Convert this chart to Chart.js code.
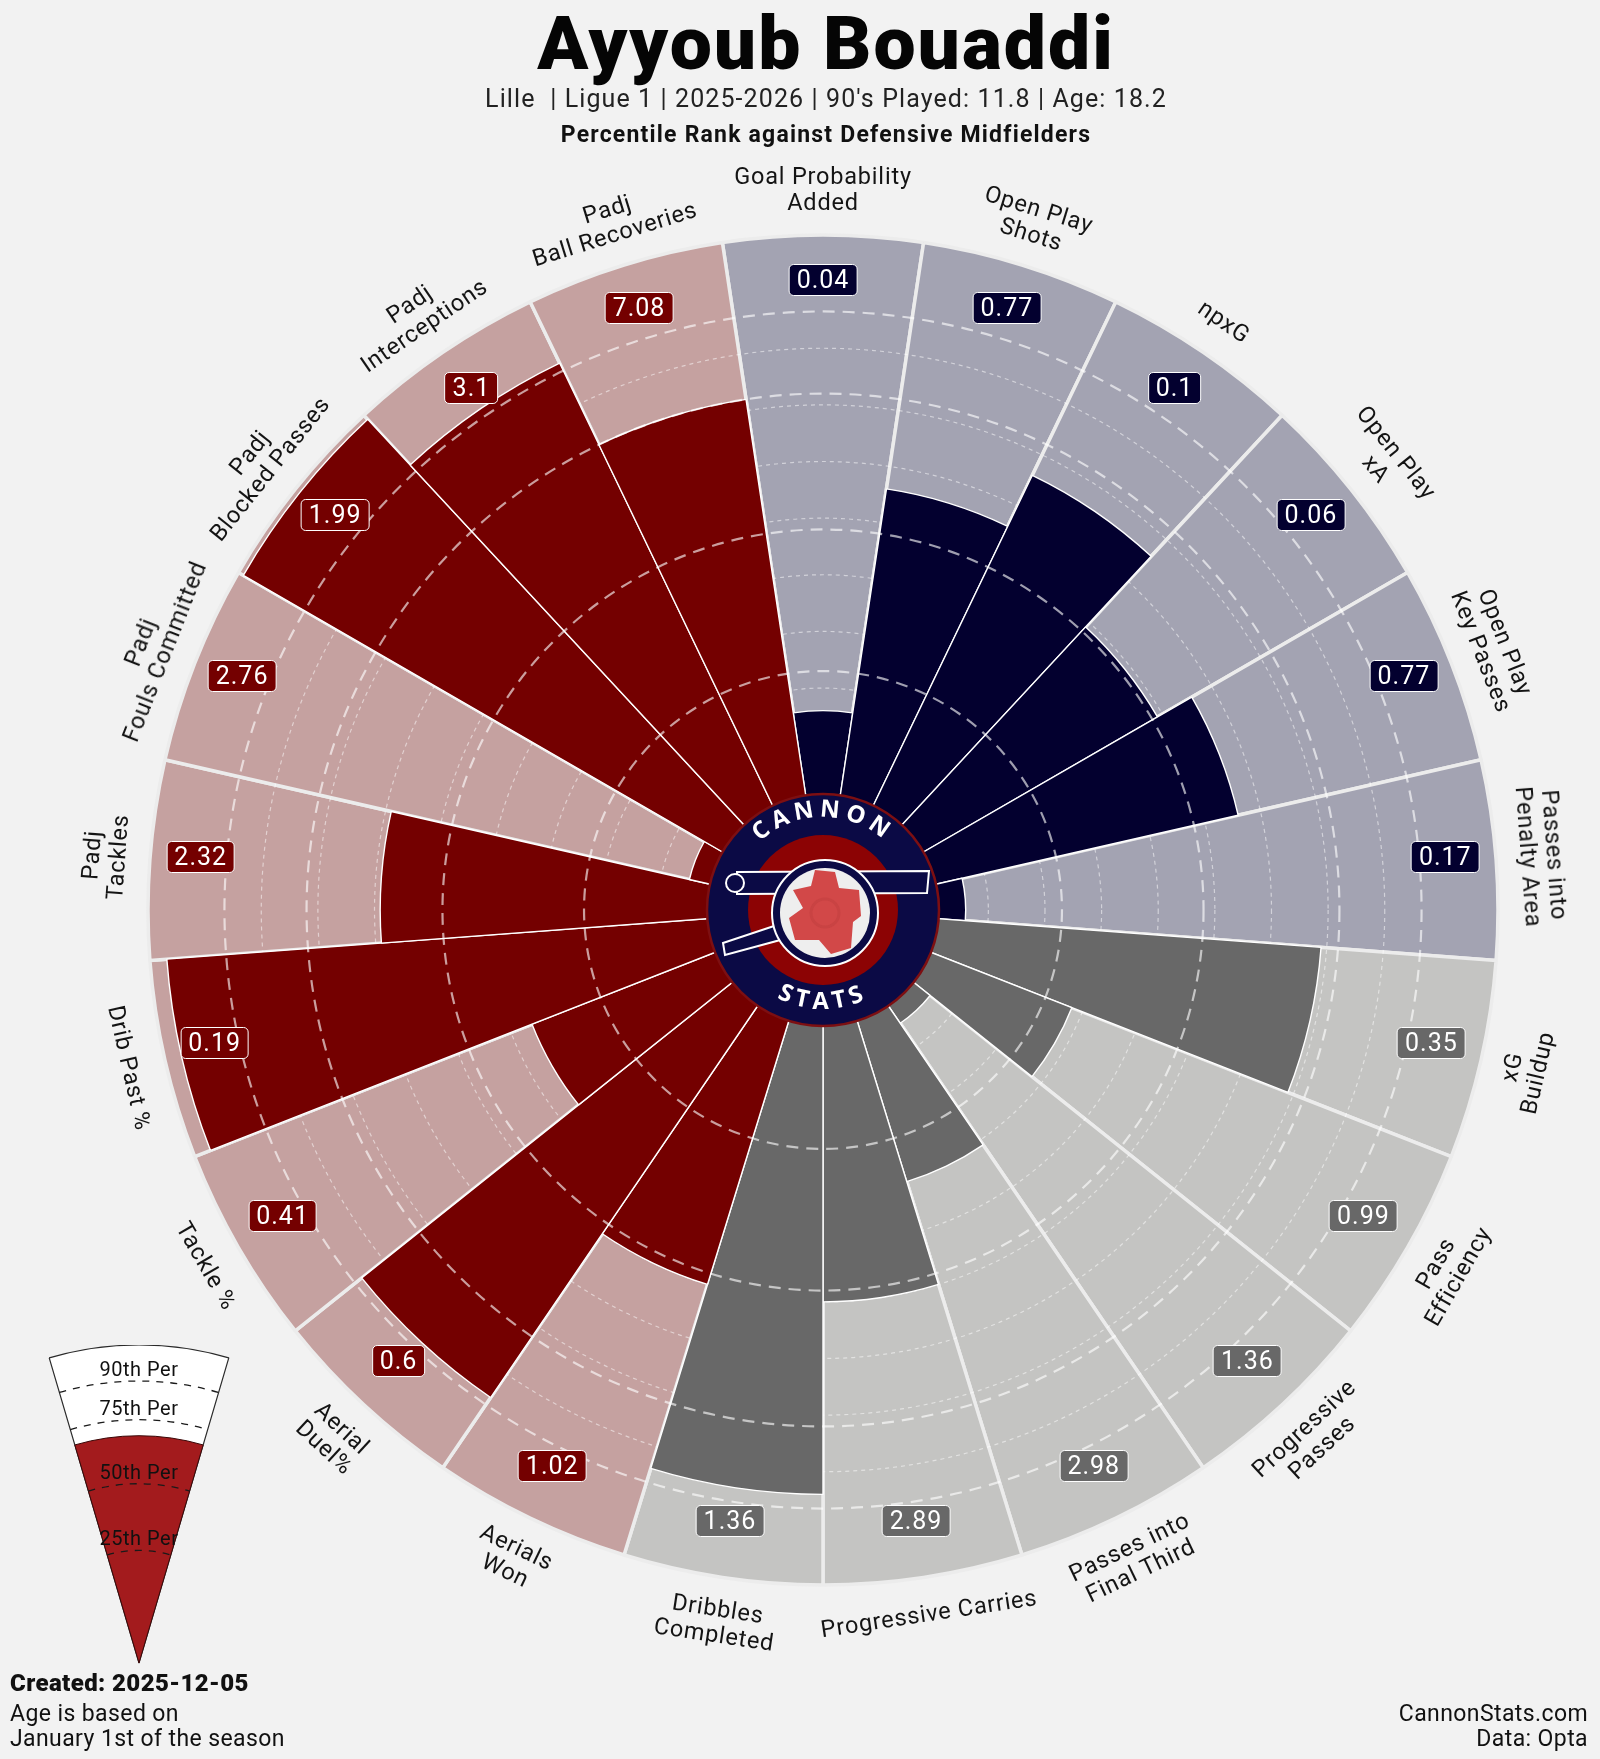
<!DOCTYPE html>
<html>
<head>
<meta charset="utf-8">
<title>Ayyoub Bouaddi - pizza</title>
<script src="https://cdn.jsdelivr.net/npm/chart.js@4.4.1/dist/chart.umd.min.js"></script>
<style>
  html, body { margin: 0; padding: 0; }
  body {
    width: 1600px; height: 1759px; position: relative; overflow: hidden;
    background: #f2f2f2; color: #111;
    font-family: Roboto, "Noto Sans", sans-serif;
  }
  canvas { position: absolute; }
  #pizza { left: 0; top: 0; }
  #key { left: -179px; top: 1345px; }
  #logo { position: absolute; left: 703px; top: 790px; }
  .center { position: absolute; left: 826px; transform: translateX(-50%); white-space: pre; text-align: center; }
  .title { top: 6px; font-size: 75px; font-weight: 900; line-height: 1; letter-spacing: 2px; color: #050505; }
  .sub { top: 86px; font-size: 25px; line-height: 26px; letter-spacing: 1.1px; color: #222; }
  .sub2 { top: 123px; font-size: 23px; line-height: 24px; letter-spacing: 1.2px; font-weight: 700; }
  .lbl { position: absolute; white-space: pre; text-align: center; font-size: 23.5px; line-height: 1.1; letter-spacing: 0.8px; color: #141414; }
  .val { position: absolute; font-size: 25px; line-height: 30px; letter-spacing: 1px; color: #fff; border: 1.5px solid #fff; border-radius: 5px; padding: 0 7px; }
  .keytxt { position: absolute; font-size: 20px; line-height: 20px; letter-spacing: 0.5px; color: #111; white-space: pre; }
  .foot { position: absolute; font-size: 23px; line-height: 25px; letter-spacing: 0.4px; color: #111; }
</style>
</head>
<body>
<canvas id="pizza" width="1600" height="1759"></canvas>
<canvas id="key" width="636" height="636"></canvas>

<svg id="logo" width="240" height="240" viewBox="-120 -120 240 240">
  <defs>
    <path id="arcTop" d="M -93 0 A 93 93 0 0 1 93 0"/>
    <path id="arcBot" d="M -99 0 A 99 99 0 0 0 99 0"/>
  </defs>
  <circle r="116" fill="#0b0a45" stroke="#7d0f12" stroke-width="2.5"/>
  <circle r="75" fill="#8c0304"/>
  <path d="M -86 -38 L 106 -39 L 104 -17 L -86 -16 Z" fill="#0b0a45" stroke="#fff" stroke-width="2"/>
  <circle cx="-88" cy="-27" r="9" fill="#0b0a45" stroke="#fff" stroke-width="2"/>
  <path d="M -100 33 L -34 11 L -28 26 L -98 45 Z" fill="#0b0a45" stroke="#fff" stroke-width="2"/>
  <circle cx="2" cy="3" r="53" fill="#0b0a45" stroke="#fff" stroke-width="2"/>
  <circle cx="2" cy="3" r="45" fill="#eeeeee"/>
  <path d="M -8 -40 L 12 -38 L 16 -22 L 36 -20 L 38 6 L 30 12 L 28 38 L 8 44 L -4 30 L -28 30 L -34 8 L -20 -2 L -30 -20 L -12 -24 Z" fill="#d24848"/>
  <circle cx="2" cy="3" r="14" fill="none" stroke="#c94343" stroke-width="3"/>
  <text font-family="'Open Sans', sans-serif" font-weight="700" font-size="24" fill="#fff" letter-spacing="5">
    <textPath href="#arcTop" startOffset="50%" text-anchor="middle">CANNON</textPath>
  </text>
  <text font-family="'Open Sans', sans-serif" font-weight="700" font-size="24" fill="#fff" letter-spacing="5">
    <textPath href="#arcBot" startOffset="50%" text-anchor="middle">STATS</textPath>
  </text>
</svg>

<div class="center title">Ayyoub Bouaddi</div>
<div class="center sub">Lille  | Ligue 1 | 2025-2026 | 90's Played: 11.8 | Age: 18.2</div>
<div class="center sub2">Percentile Rank against Defensive Midfielders</div>

<div class="foot" style="left:10px; top:1671px; font-weight:900; font-size:24px;">Created: 2025-12-05</div>
<div class="foot" style="left:10px; top:1701px;">Age is based on<br>January 1st of the season</div>
<div class="foot" style="right:12px; top:1701px; text-align:right;">CannonStats.com<br>Data: Opta</div>

<script>
// categories clockwise from the top
const categories = [
  ["Goal Probability", "Added"],
  ["Open Play", "Shots"],
  "npxG",
  ["Open Play", "xA"],
  ["Open Play", "Key Passes"],
  ["Passes into", "Penalty Area"],
  ["xG", "Buildup"],
  ["Pass", "Efficiency"],
  ["Progressive", "Passes"],
  ["Passes into", "Final Third"],
  "Progressive Carries",
  ["Dribbles", "Completed"],
  ["Aerials", "Won"],
  ["Aerial", "Duel%"],
  "Tackle %",
  "Drib Past %",
  ["Padj", "Tackles"],
  ["Padj", "Fouls Committed"],
  ["Padj", "Blocked Passes"],
  ["Padj", "Interceptions"],
  ["Padj", "Ball Recoveries"]
];

// percentile rank of each slice
const percentiles = [16, 56, 66, 49, 56, 6, 69, 28, 5, 31, 50, 84, 50, 85, 36, 97, 59, 5, 99, 88, 72];

// raw per-90 values shown in the boxes
const statValues = ["0.04", "0.77", "0.1", "0.06", "0.77", "0.17", "0.35", "0.99", "1.36", "2.98", "2.89",
                    "1.36", "1.02", "0.6", "0.41", "0.19", "2.32", "2.76", "1.99", "3.1", "7.08"];

// 0 = attacking, 1 = possession, 2 = defending
const groupOf = [0, 0, 0, 0, 0, 0, 1, 1, 1, 1, 1, 1, 2, 2, 2, 2, 2, 2, 2, 2, 2];

// dashed reference rings (25th / 50th / 75th / 90th markers) and the finer grid
const refLines = [23, 48, 72, 86.5];
const gridSteps = [10, 20, 30, 40, 50, 60, 70, 80];

// key wedge
const keyLabels = ["25th Per", "50th Per", "75th Per", "90th Per"];
const keyFill = 66;

const darkColors = ["#03002f", "#686868", "#740000"];
const lightColors = ["#a3a3b2", "#c4c4c2", "#c5a1a0"];
const scaleMin = -19.2;

// thin dashed rings go above the light slices but under the percentile bars
const thinGrid = {
  id: "thinGrid",
  beforeDatasetDraw(chart, args) {
    if (args.index !== 0) return;
    const r = chart.scales.r;
    const ctx = chart.ctx;
    ctx.save();
    ctx.strokeStyle = "rgba(255,255,255,0.5)";
    ctx.lineWidth = 1.2;
    ctx.setLineDash([4, 4]);
    gridSteps.forEach(v => {
      ctx.beginPath();
      ctx.arc(r.xCenter, r.yCenter, r.getDistanceFromCenterForValue(v), 0, Math.PI * 2);
      ctx.stroke();
    });
    ctx.restore();
  }
};

const pizzaChart = new Chart(document.getElementById("pizza"), {
  type: "polarArea",
  data: {
    labels: categories,
    datasets: [
      {
        label: "Percentile",
        data: percentiles,
        backgroundColor: groupOf.map(g => darkColors[g]),
        borderColor: "#ffffff",
        borderWidth: 1.4,
        order: 0
      },
      {
        label: "Max",
        data: categories.map(() => 100),
        backgroundColor: groupOf.map(g => lightColors[g]),
        borderColor: "#ececec",
        borderWidth: 3.5,
        order: 1
      }
    ]
  },
  options: {
    responsive: false,
    animation: false,
    layout: { padding: { left: 148, right: 102, top: 235, bottom: 174 } },
    plugins: { legend: { display: false }, tooltip: { enabled: false } },
    scales: {
      r: {
        min: scaleMin,
        max: 100,
        startAngle: -180 / categories.length,
        ticks: { display: false },
        pointLabels: { display: false },
        angleLines: { display: false },
        grid: { circular: true, z: 1, color: "rgba(255,255,255,0.62)", lineWidth: 2.2 },
        border: { dash: [12, 8] },
        afterBuildTicks: (scale) => {
          scale.ticks = refLines.map(v => ({ value: v }));
        }
      }
    }
  },
  plugins: [thinGrid]
});

// outer labels and value boxes, placed from the radial scale
const rs = pizzaChart.scales.r;
categories.forEach((cat, i) => {
  const lines = Array.isArray(cat) ? cat : [cat];
  const theta = rs.getIndexAngle(i + 0.5) * 180 / Math.PI;
  const rot = theta < 90 ? theta : (theta < 270 ? theta - 180 : theta - 360);
  const p = rs.getPointPosition(i + 0.5, rs.drawingArea + (lines.length > 1 ? 45 : 37));
  const lbl = document.createElement("div");
  lbl.className = "lbl";
  lbl.textContent = lines.join("\n");
  lbl.style.left = p.x + "px";
  lbl.style.top = p.y + "px";
  lbl.style.transform = "translate(-50%,-50%) rotate(" + rot + "deg)";
  document.body.appendChild(lbl);

  const q = rs.getPointPosition(i + 0.5, rs.getDistanceFromCenterForValue(91));
  const box = document.createElement("div");
  box.className = "val";
  box.textContent = statValues[i];
  box.style.background = darkColors[groupOf[i]];
  box.style.left = q.x + "px";
  box.style.top = (q.y - 6) + "px";
  box.style.transform = "translate(-50%,-50%)";
  document.body.appendChild(box);
});

// key wedge
const keyAngle = 32.8;
const keyCanvas = document.getElementById("key");
const keyLines = {
  id: "keyLines",
  afterDatasetsDraw(chart) {
    const r = chart.scales.r;
    const ctx = chart.ctx;
    const half = keyAngle / 2 * Math.PI / 180;
    ctx.save();
    ctx.strokeStyle = "#1a1a1a";
    ctx.lineWidth = 1.3;
    ctx.setLineDash([7, 7]);
    refLines.forEach(v => {
      ctx.beginPath();
      ctx.arc(r.xCenter, r.yCenter, r.getDistanceFromCenterForValue(v), -Math.PI / 2 - half, -Math.PI / 2 + half);
      ctx.stroke();
    });
    ctx.restore();
  }
};

const keyChart = new Chart(keyCanvas, {
  type: "polarArea",
  data: {
    labels: ["Key"],
    datasets: [
      { data: [keyFill], backgroundColor: "#a31b1d", borderColor: "#3a0808", borderWidth: 1, angle: keyAngle, order: 0 },
      { data: [100], backgroundColor: "#ffffff", borderColor: "#2a2a2a", borderWidth: 1.2, angle: keyAngle, order: 1 }
    ]
  },
  options: {
    responsive: false,
    animation: false,
    layout: { padding: 0 },
    plugins: { legend: { display: false }, tooltip: { enabled: false } },
    scales: {
      r: {
        min: scaleMin,
        max: 100,
        startAngle: -keyAngle / 2,
        ticks: { display: false },
        grid: { display: false },
        angleLines: { display: false },
        pointLabels: { display: false }
      }
    }
  },
  plugins: [keyLines]
});

const ks = keyChart.scales.r;
const kx = keyCanvas.offsetLeft, ky = keyCanvas.offsetTop;
refLines.forEach((v, i) => {
  const p = ks.getPointPosition(0, ks.getDistanceFromCenterForValue(v) + 12, keyAngle / 2 * Math.PI / 180);
  const t = document.createElement("div");
  t.className = "keytxt";
  t.textContent = keyLabels[i];
  t.style.left = (p.x + kx) + "px";
  t.style.top = (p.y + ky) + "px";
  t.style.transform = "translate(-50%,-50%)";
  document.body.appendChild(t);
});
</script>
</body>
</html>
